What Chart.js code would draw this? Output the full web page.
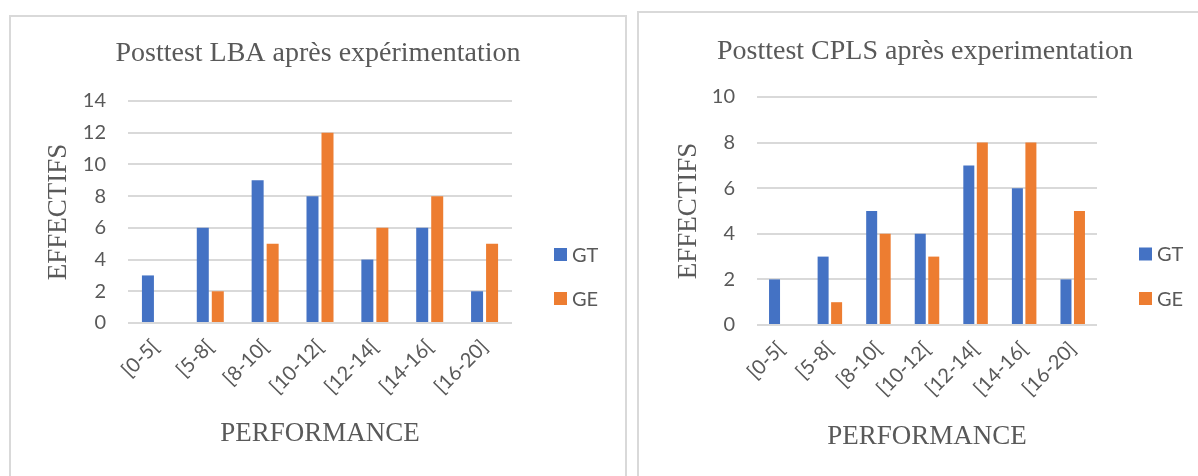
<!DOCTYPE html>
<html lang="fr">
<head>
<meta charset="utf-8">
<title>Posttest LBA / CPLS</title>
<script src="https://cdn.jsdelivr.net/npm/chart.js@4.4.1/dist/chart.umd.min.js"></script>
<style>
  html, body { margin: 0; padding: 0; background: #ffffff; overflow: hidden; }
  body { width: 1198px; height: 476px; position: relative; }
  .panel { position: absolute; border: 2px solid #d9d9d9; box-sizing: border-box; }
  #panelLBA { left: 9px; top: 15px; width: 618px; height: 500px; }
  #panelCPLS { left: 637px; top: 11px; width: 600px; height: 500px; }
  canvas { position: absolute; }
  #chartLBA { left: 10px; top: 17px; }
  #chartCPLS { left: 640px; top: 14px; }
</style>
</head>
<body>
<div class="panel" id="panelLBA"></div>
<div class="panel" id="panelCPLS"></div>
<canvas id="chartLBA" width="616" height="436"></canvas>
<canvas id="chartCPLS" width="570" height="442"></canvas>
<script>
// Score bands (x axis)
const categories = ['[0-5[', '[5-8[', '[8-10[', '[10-12[', '[12-14[', '[14-16[', '[16-20]'];
const seriesNames = ['GT', 'GE'];

// Posttest LBA – effectifs per band
const lbaGT = [3, 6, 9, 8, 4, 6, 2];
const lbaGE = [0, 2, 5, 12, 6, 8, 5];

// Posttest CPLS – effectifs per band
const cplsGT = [2, 3, 5, 4, 7, 6, 2];
const cplsGE = [0, 1, 4, 3, 8, 8, 5];

const BLUE = '#4472C4';
const ORANGE = '#ED7D31';
const TEXT = '#595959';
const GRID = '#d9d9d9';
const SERIF = "'Liberation Serif', 'Times New Roman', serif";
const SANS = "Lato, 'Open Sans', sans-serif";
const TICK_SIZE = 20;

// Legend entries drawn to the right of the plot, square + label, like office charts
const sideLegend = {
  id: 'sideLegend',
  afterDraw(chart, args, opts) {
    const { ctx, chartArea } = chart;
    ctx.save();
    ctx.font = TICK_SIZE + 'px ' + SANS;
    ctx.textBaseline = 'middle';
    ctx.textAlign = 'left';
    chart.data.datasets.forEach((ds, i) => {
      const cy = chartArea.bottom + opts.offsets[i];
      const x = chartArea.right + 42;
      ctx.fillStyle = ds.backgroundColor;
      ctx.fillRect(x, cy - 6.5, 13, 13);
      ctx.fillStyle = TEXT;
      ctx.fillText(ds.label, x + 18, cy + 1);
    });
    ctx.restore();
  }
};

function makeChart(id, title, gt, ge, yMax, geom) {
  return new Chart(document.getElementById(id), {
    type: 'bar',
    data: {
      labels: categories,
      datasets: [
        { label: seriesNames[0], data: gt, backgroundColor: BLUE, borderWidth: 0,
          categoryPercentage: geom.catPct, barPercentage: geom.barPct },
        { label: seriesNames[1], data: ge, backgroundColor: ORANGE, borderWidth: 0,
          categoryPercentage: geom.catPct, barPercentage: geom.barPct }
      ]
    },
    options: {
      responsive: false,
      animation: false,
      events: [],
      layout: { padding: 0 },
      plugins: {
        legend: { display: false },
        tooltip: { enabled: false },
        title: {
          display: true,
          text: title,
          color: TEXT,
          font: { family: SERIF, size: 28, weight: 'normal' },
          padding: { top: geom.titleTop, bottom: geom.titleBottom }
        },
        sideLegend: { offsets: geom.legendOffsets }
      },
      scales: {
        x: {
          grid: { display: false },
          border: { display: false },
          ticks: {
            color: TEXT,
            font: { family: SANS, size: TICK_SIZE },
            minRotation: 45,
            maxRotation: 45,
            autoSkip: false,
            padding: geom.xTickPad
          },
          title: {
            display: true,
            text: 'PERFORMANCE',
            color: TEXT,
            font: { family: SERIF, size: 27, weight: 'normal' },
            padding: { top: 0, bottom: 3 }
          },
          afterFit(scale) { scale.height = geom.xHeight; }
        },
        y: {
          min: 0,
          max: yMax,
          grid: { color: GRID, lineWidth: 2, drawTicks: false },
          border: { display: false },
          ticks: {
            stepSize: 2,
            color: TEXT,
            font: { family: SANS, size: TICK_SIZE },
            padding: 22
          },
          title: {
            display: true,
            text: 'EFFECTIFS',
            color: TEXT,
            font: { family: SERIF, size: 27, weight: 'normal' },
            padding: { top: 33, bottom: 0 }
          },
          afterFit(scale) { scale.width = geom.yWidth; }
        },
        // empty right-hand strip that keeps room for the series legend
        legendStrip: {
          type: 'linear',
          position: 'right',
          display: true,
          grid: { display: false, drawTicks: false },
          border: { display: false },
          ticks: { display: false },
          afterFit(scale) { scale.width = geom.stripWidth; }
        }
      }
    },
    plugins: [sideLegend]
  });
}

makeChart('chartLBA', 'Posttest LBA après expérimentation', lbaGT, lbaGE, 14, {
  catPct: 0.547, barPct: 0.8,
  stripWidth: 114, yWidth: 118, xHeight: 130,
  titleTop: 19.6, titleBottom: 30.8,
  xTickPad: 4,
  legendOffsets: [-68.5, -24.5]
});

makeChart('chartCPLS', 'Posttest CPLS après experimentation', cplsGT, cplsGE, 10, {
  catPct: 0.556, barPct: 0.815,
  stripWidth: 113, yWidth: 117, xHeight: 131,
  titleTop: 20.6, titleBottom: 28.8,
  xTickPad: 4,
  legendOffsets: [-71, -26.5]
});
</script>
</body>
</html>
